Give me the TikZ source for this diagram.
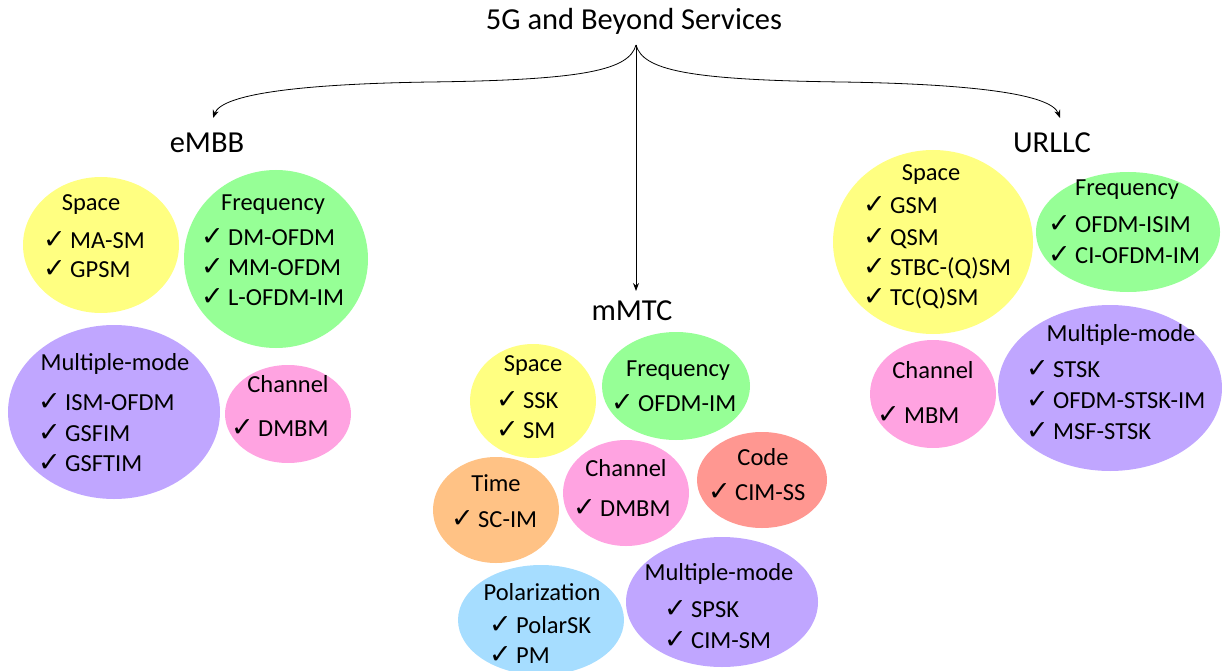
\documentclass[tikz,border=0pt]{standalone}
\usepackage{fontspec}
\setmainfont{Carlito}
\newfontfamily\chkfont{DejaVu Sans}
\usetikzlibrary{shapes.geometric,arrows.meta}
\definecolor{cyel}{HTML}{FFFF81}
\definecolor{cgrn}{HTML}{96FF96}
\definecolor{cpur}{HTML}{C0A6FF}
\definecolor{cpnk}{HTML}{FFA3E1}
\definecolor{corg}{HTML}{FFC285}
\definecolor{cred}{HTML}{FF9791}
\definecolor{cblu}{HTML}{A6DDFF}
\newcommand{\blob}[6]{\node[blobshape,fill=#2,minimum width=#5*2pt,minimum height=#6*2pt] (#1) at (#3,#4) {};}
\newcommand{\ttl}[4]{\node[txt,anchor=base] (#1) at (#2,#3+8) {#4};}
\newcommand{\itm}[4]{\node[txt,anchor=base west] (#1) at (#2,#3+8) {\makebox[27pt][l]{{\chkfont\fontsize{27}{30}\selectfont ✓}}#4};}
\begin{document}
\begin{tikzpicture}[x=1pt,y=-1pt,
  blobshape/.style={ellipse,draw=none,inner sep=0pt},
  txt/.style={font=\fontsize{24.5}{28}\selectfont,inner sep=0pt},
  head/.style={font=\fontsize{30.5}{34}\selectfont,inner sep=0pt,anchor=base},
  arr/.style={-{Stealth[length=8pt,width=6pt]},line width=0.8pt}]
\useasboundingbox (0,0) rectangle (1222,671);
% headings
\node[head] (root) at (634,30) {5G and Beyond Services};
\node[head] (embb) at (207,153) {eMBB};
\node[head] (mmtc) at (632,320) {mMTC};
\node[head] (urllc) at (1052,153) {URLLC};
\coordinate (top) at (636,45);
\coordinate (ltip) at (213,118);
\coordinate (rtip) at (1060,118);
\coordinate (mtip) at (636,291);
\draw[arr] (top) .. controls (629,70) and (585,80) .. (430,82) .. controls (300,84) and (222,94) .. (ltip);
\draw[arr] (top) .. controls (643,70) and (687,80) .. (842,82) .. controls (972,84) and (1051,94) .. (rtip);
\draw[arr] (top) -- (mtip);
% eMBB
\blob{eS}{cyel}{101}{245}{78}{68}
\blob{eF}{cgrn}{276}{259}{92}{89}
\blob{eM}{cpur}{114}{412}{106}{87}
\blob{eC}{cpnk}{288}{414}{63}{49}
\ttl{eSt}{91}{202}{Space}
\itm{eS1}{43}{240}{MA-SM}
\itm{eS2}{43}{269}{GPSM}
\ttl{eFt}{273}{202}{Frequency}
\itm{eF1}{201}{237}{DM-OFDM}
\itm{eF2}{201}{267}{MM-OFDM}
\itm{eF3}{201}{297}{L-OFDM-IM}
\ttl{eMt}{115}{362}{Multiple-mode}
\itm{eM1}{38}{402}{ISM-OFDM}
\itm{eM2}{38}{433}{GSFIM}
\itm{eM3}{38}{463}{GSFTIM}
\ttl{eCt}{288}{384}{Channel}
\itm{eC1}{231}{428}{DMBM}
% mMTC
\blob{mS}{cyel}{533}{401}{63}{57}
\blob{mF}{cgrn}{676}{386}{74}{54}
\blob{mK}{cred}{762}{480}{65}{48}
\blob{mC}{cpnk}{626}{493}{63}{53}
\blob{mT}{corg}{496}{510}{63}{53}
\blob{mP}{cblu}{541}{620}{83}{55}
\blob{mM}{cpur}{722}{602}{96}{65}
\ttl{mSt}{533}{363}{Space}
\itm{mS1}{496}{400}{SSK}
\itm{mS2}{496}{430}{SM}
\ttl{mFt}{678}{368}{Frequency}
\itm{mF1}{611}{403}{OFDM-IM}
\ttl{mKt}{763}{457}{Code}
\itm{mK1}{708}{492}{CIM-SS}
\ttl{mCt}{626}{468}{Channel}
\itm{mC1}{573}{508}{DMBM}
\ttl{mTt}{496}{483}{Time}
\itm{mT1}{451}{519}{SC-IM}
\ttl{mPt}{542}{592}{Polarization}
\itm{mP1}{489}{625}{PolarSK}
\itm{mP2}{489}{655}{PM}
\ttl{mMt}{719}{572}{Multiple-mode}
\itm{mM1}{664}{609}{SPSK}
\itm{mM2}{664}{640}{CIM-SM}
% URLLC
\blob{uS}{cyel}{933}{242}{100}{92}
\blob{uF}{cgrn}{1128}{232}{92}{60}
\blob{uC}{cpnk}{933}{394}{63}{54}
\blob{uM}{cpur}{1110}{388}{112}{83}
\ttl{uSt}{931}{172}{Space}
\itm{uS1}{863}{205}{GSM}
\itm{uS2}{863}{237}{QSM}
\itm{uS3}{863}{267}{STBC-(Q)SM}
\itm{uS4}{863}{297}{TC(Q)SM}
\ttl{uFt}{1127}{187}{Frequency}
\itm{uF1}{1048}{224}{OFDM-ISIM}
\itm{uF2}{1048}{255}{CI-OFDM-IM}
\ttl{uCt}{933}{370}{Channel}
\itm{uC1}{877}{415}{MBM}
\ttl{uMt}{1121}{333}{Multiple-mode}
\itm{uM1}{1026}{369}{STSK}
\itm{uM2}{1026}{400}{OFDM-STSK-IM}
\itm{uM3}{1026}{431}{MSF-STSK}
\end{tikzpicture}
\end{document}
